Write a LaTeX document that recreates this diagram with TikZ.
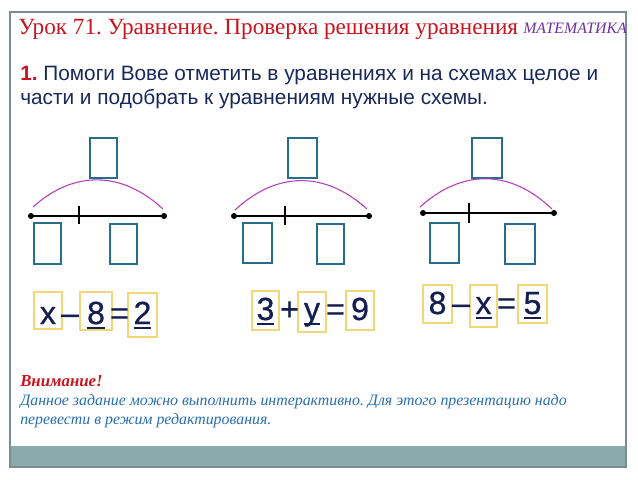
\documentclass[tikz,border=0pt]{standalone}
\usepackage{fontspec}
\setmainfont{Liberation Serif}
\newfontfamily\arialf{Liberation Sans}
\newfontfamily\eqfontf[FakeBold=0.7]{Liberation Sans}
\definecolor{titlered}{RGB}{200,20,30}
\definecolor{mathpurple}{RGB}{112,48,160}
\definecolor{navytext}{RGB}{25,40,90}
\definecolor{eqnavy}{RGB}{20,30,80}
\definecolor{boxteal}{RGB}{40,110,140}
\definecolor{arcmag}{RGB}{180,60,190}
\definecolor{yelbox}{RGB}{240,215,120}
\definecolor{noteblue}{RGB}{40,110,180}
\definecolor{framegray}{RGB}{120,140,150}
\definecolor{bandfill}{RGB}{139,170,172}
\newcommand\myul[1]{\setbox0\hbox{#1}\rlap{\rule[-4pt]{\wd0}{1.6pt}}\box0}
\frenchspacing
\tikzset{
  eqtxt/.style={anchor=base, inner sep=0pt, text=eqnavy, font=\eqfontf\fontsize{24pt}{28pt}\selectfont},
  eqframe/.style={draw=yelbox, line width=0.9pt},
  partbox/.style={draw=boxteal, line width=0.9pt},
  segline/.style={line width=1.7pt, black},
  tickline/.style={line width=1.4pt, black},
  endpt/.style={circle, fill=black, inner sep=0pt, minimum size=4.5pt},
  wholearc/.style={draw=arcmag, line width=0.8pt},
  tasktxt/.style={anchor=base west, inner sep=0pt, text=navytext, font=\arialf\fontsize{15.6pt}{18pt}\selectfont},
  notetxt/.style={anchor=base west, inner sep=0pt, text=noteblue, font=\itshape\fontsize{11.9pt}{14pt}\selectfont},
}
\begin{document}
\begin{tikzpicture}[x=0.75pt,y=-0.75pt]
\useasboundingbox (0,0) rectangle (638,479);
% frame and band
\fill[bandfill] (10,446) rectangle (626,467);
\draw[framegray, line width=0.8pt] (10,12) rectangle (626,467);
% title
\node[anchor=base west, inner sep=0pt, text=titlered, font=\fontsize{17.4pt}{20pt}\selectfont] (title) at (18,34) {Урок 71. Уравнение. Проверка решения уравнения};
\node[anchor=base west, inner sep=0pt, text=mathpurple, font=\itshape\fontsize{11.9pt}{13pt}\selectfont] (subj) at (523,33) {МАТЕМАТИКА};
% task text
\node[tasktxt] (task1) at (20,80) {\textcolor{titlered}{\bfseries 1.} Помоги Вове отметить в уравнениях и на схемах целое и};
\node[tasktxt] (task2) at (20,104) {части и подобрать к уравнениям нужные схемы.};
% scheme 1
\draw[partbox] (90,138) rectangle (117,178);
\draw[partbox] (34,223) rectangle (61,264);
\draw[partbox] (110,224) rectangle (137,264);
\node[endpt] (s1l) at (31,216) {};
\node[endpt] (s1r) at (164,216) {};
\draw[segline] (s1l.center) -- (s1r.center);
\coordinate (s1t1) at (79,206); \coordinate (s1t2) at (79,224);
\draw[tickline] (s1t1) -- (s1t2);
\coordinate (s1a) at (33,207); \coordinate (s1b) at (163,209);
\draw[wholearc] (s1a) .. controls (74,170) and (122,171) .. (s1b);
% scheme 2
\draw[partbox] (288,138) rectangle (317,178);
\draw[partbox] (243,223) rectangle (272,263);
\draw[partbox] (317,224) rectangle (344,264);
\node[endpt] (s2l) at (234,216) {};
\node[endpt] (s2r) at (369,216) {};
\draw[segline] (s2l.center) -- (s2r.center);
\coordinate (s2t1) at (285,206); \coordinate (s2t2) at (285,225);
\draw[tickline] (s2t1) -- (s2t2);
\coordinate (s2a) at (235,210); \coordinate (s2b) at (367,209);
\draw[wholearc] (s2a) .. controls (277,171) and (325,171) .. (s2b);
% scheme 3
\draw[partbox] (472,138) rectangle (502,178);
\draw[partbox] (430,223) rectangle (459,263);
\draw[partbox] (505,224) rectangle (535,264);
\node[endpt] (s3l) at (423,213) {};
\node[endpt] (s3r) at (554,213) {};
\draw[segline] (s3l.center) -- (s3r.center);
\coordinate (s3t1) at (469,203); \coordinate (s3t2) at (469,223);
\draw[tickline] (s3t1) -- (s3t2);
\coordinate (s3a) at (420,207); \coordinate (s3b) at (552,209);
\draw[wholearc] (s3a) .. controls (462,169) and (510,169) .. (s3b);
% equation 1
\draw[eqframe] (34,292) rectangle (62,329);
\draw[eqframe] (80,292) rectangle (112,330);
\draw[eqframe] (128,293) rectangle (157,337);
\node[eqtxt] (e1a) at (48,324) {x};
\node[eqtxt] (e1m) at (70,324) {–};
\node[eqtxt] (e1b) at (96,324) {\myul{8}};
\node[eqtxt] (e1e) at (119.5,324) {=};
\node[eqtxt] (e1c) at (142.5,324) {\myul{2}};
% equation 2
\draw[eqframe] (252,291) rectangle (279,330);
\draw[eqframe] (298,292) rectangle (326,332);
\draw[eqframe] (346,291) rectangle (374,330);
\node[eqtxt] (e2a) at (265.5,320) {\myul{3}};
\node[eqtxt] (e2p) at (289.5,320) {+};
\node[eqtxt] (e2b) at (312,320) {\myul{y}};
\node[eqtxt] (e2e) at (335.5,320) {=};
\node[eqtxt] (e2c) at (360,320) {9};
% equation 3
\draw[eqframe] (423,285) rectangle (452,323);
\draw[eqframe] (470,285) rectangle (497,327);
\draw[eqframe] (518,285) rectangle (547,323);
\node[eqtxt] (e3a) at (437.5,314) {8};
\node[eqtxt] (e3m) at (461,314) {–};
\node[eqtxt] (e3b) at (483.5,314) {\myul{x}};
\node[eqtxt] (e3e) at (506.5,314) {=};
\node[eqtxt] (e3c) at (532.5,314) {\myul{5}};
% note
\node[anchor=base west, inner sep=0pt, text=titlered, font=\bfseries\itshape\fontsize{12.6pt}{14pt}\selectfont] (note0) at (20,386) {Внимание!};
\node[notetxt] (note1) at (20,405) {Данное задание можно выполнить интерактивно. Для этого презентацию надо};
\node[notetxt] (note2) at (20,424) {перевести в режим редактирования.};
\end{tikzpicture}
\end{document}
